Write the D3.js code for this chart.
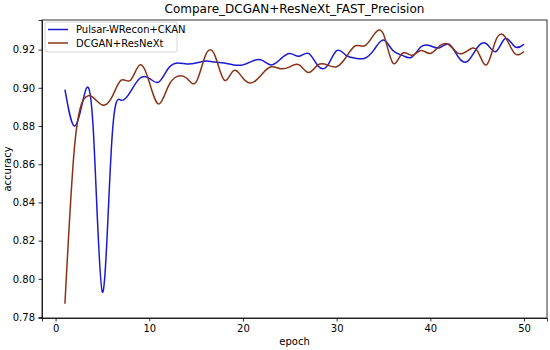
<!DOCTYPE html>
<html lang="en">
<head>
<meta charset="utf-8">
<title>Compare_DCGAN+ResNeXt_FAST_Precision</title>
<script src="https://cdn.jsdelivr.net/npm/d3@7/dist/d3.min.js"></script>
<style>
body { margin: 0; background: #fff; }
text { font-family: "DejaVu Sans", sans-serif; fill: #000; }
.axis path, .axis line { stroke: #000; stroke-width: 0.8; }
.axis text { font-size: 10px; }
</style>
</head>
<body>
<script>
var epochs = d3.range(1, 51);
var pulsar = [0.899, 0.880, 0.895, 0.880, 0.793, 0.872, 0.8935, 0.898, 0.905, 0.905,
              0.903, 0.910, 0.913, 0.9125, 0.913, 0.914, 0.9135, 0.913, 0.912, 0.912,
              0.914, 0.9145, 0.912, 0.915, 0.918, 0.9165, 0.918, 0.9115, 0.9115, 0.9195,
              0.917, 0.9155, 0.9155, 0.920, 0.925, 0.9195, 0.917, 0.916, 0.9215, 0.922,
              0.921, 0.9228, 0.916, 0.914, 0.921, 0.923, 0.919, 0.9258, 0.9216, 0.9228];
var dcgan = [0.787, 0.868, 0.894, 0.895, 0.891, 0.895, 0.904, 0.904, 0.912, 0.903,
             0.8915, 0.9005, 0.906, 0.905, 0.903, 0.917, 0.917, 0.904, 0.909, 0.905,
             0.9027, 0.907, 0.911, 0.910, 0.911, 0.912, 0.908, 0.912, 0.912, 0.911,
             0.916, 0.922, 0.922, 0.928, 0.928, 0.913, 0.918, 0.917, 0.9195, 0.918,
             0.922, 0.9225, 0.918, 0.9195, 0.9195, 0.912, 0.925, 0.9265, 0.918, 0.919];
var xTicks = [0, 10, 20, 30, 40, 50];
var yTicks = [0.78, 0.80, 0.82, 0.84, 0.86, 0.88, 0.90, 0.92];
var seriesNames = ["Pulsar-WRecon+CKAN", "DCGAN+ResNeXt"];
var colors = ["#1a1ad2", "#8b3215"];

var w = 550, h = 350;
var padL = 42, padR = 547, padT = 20, padB = 318;

var xScale = d3.scaleLinear().domain([-1.45, 52.45]).range([padL, padR]);
var yScale = d3.scaleLinear().domain([0.7795, 0.9355]).range([padB, padT]);

var svg = d3.select("body").append("svg")
    .attr("width", w).attr("height", h);

svg.append("g")
    .attr("class", "axis")
    .attr("transform", "translate(0," + padB + ")")
    .call(d3.axisBottom(xScale).tickValues(xTicks).tickSize(3.5).tickPadding(3.5));
svg.append("g")
    .attr("class", "axis")
    .attr("transform", "translate(" + padL + ",0)")
    .call(d3.axisLeft(yScale).tickValues(yTicks).tickFormat(d3.format(".2f")).tickSize(3.5).tickPadding(3.5));

// frame
svg.append("rect")
    .attr("x", padL).attr("y", padT)
    .attr("width", padR - padL).attr("height", padB - padT)
    .attr("fill", "none").attr("stroke", "#000").attr("stroke-width", 0.8);

var line = d3.line()
    .x(function (d, i) { return xScale(epochs[i]); })
    .y(function (d) { return yScale(d); })
    .curve(d3.curveNatural);

[pulsar, dcgan].forEach(function (s, k) {
  svg.append("path")
      .datum(s)
      .attr("d", line)
      .attr("fill", "none")
      .attr("stroke", colors[k])
      .attr("stroke-width", 1.5);
});

svg.append("text")
    .attr("x", (padL + padR) / 2).attr("y", 13)
    .attr("text-anchor", "middle")
    .style("font-size", "12px")
    .text("Compare_DCGAN+ResNeXt_FAST_Precision");
svg.append("text")
    .attr("x", (padL + padR) / 2).attr("y", 345)
    .attr("text-anchor", "middle")
    .style("font-size", "10px")
    .text("epoch");
svg.append("text")
    .attr("transform", "translate(11," + ((padT + padB) / 2) + ") rotate(-90)")
    .attr("text-anchor", "middle")
    .style("font-size", "10px")
    .text("accuracy");

// legend
var lg = svg.append("g").attr("transform", "translate(45,22)");
lg.append("rect")
    .attr("width", 132).attr("height", 30).attr("rx", 2)
    .attr("fill", "#fff").attr("fill-opacity", 0.8)
    .attr("stroke", "#ccc").attr("stroke-width", 0.8);
seriesNames.forEach(function (n, k) {
  var y = 7.5 + k * 13.5;
  lg.append("line")
      .attr("x1", 3).attr("x2", 23).attr("y1", y).attr("y2", y)
      .attr("stroke", colors[k]).attr("stroke-width", 1.5);
  lg.append("text")
      .attr("x", 31).attr("y", y + 3.5)
      .style("font-size", "10px")
      .text(n);
});
</script>
</body>
</html>
